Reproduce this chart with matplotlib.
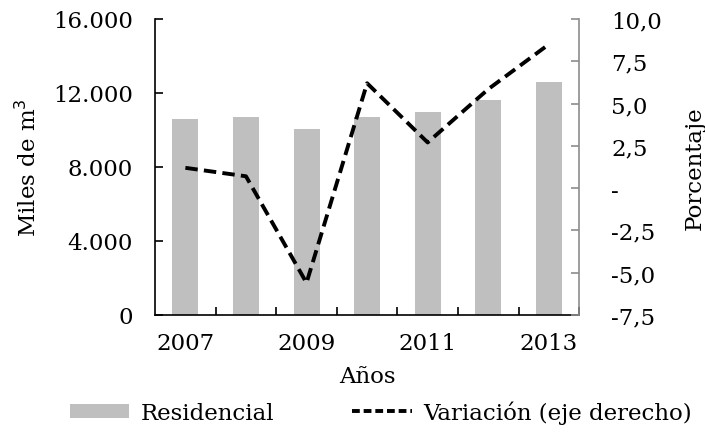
import matplotlib
matplotlib.use("Agg")
import matplotlib.pyplot as plt
import matplotlib.ticker as ticker
from matplotlib.patches import Patch
from matplotlib.lines import Line2D

plt.rcParams['font.family'] = ['DejaVu Serif']
plt.rcParams['font.size'] = 16.5

anios = ['2007', '2008', '2009', '2010', '2011', '2012', '2013']
residencial = [10570, 10700, 10050, 10700, 10970, 11640, 12580]
variacion = [1.2, 0.7, -5.6, 6.2, 2.7, 5.85, 8.5]
etiquetas_x = ['2007', '2009', '2011', '2013']

gris = '#bfbfbf'

fig = plt.figure(figsize=(7.05, 4.35), dpi=100)
ax = fig.add_axes([0.22, 0.2736, 0.6014, 0.6805])
pos = list(range(len(anios)))

# barras de consumo residencial (eje izquierdo)
ax.bar(pos, residencial, width=0.43, color=gris, zorder=1)
ax.set_xlim(-0.5, len(anios) - 0.5)
ax.set_ylim(0, 16000)
ax.yaxis.set_major_locator(ticker.MultipleLocator(4000))
ax.yaxis.set_major_formatter(ticker.FuncFormatter(lambda v, p: f"{int(v):,}".replace(',', '.')))
ax.set_xticks([0, 2, 4, 6])
ax.set_xticklabels(etiquetas_x)
ax.set_xticks([p + 0.5 for p in pos], minor=True)
ax.tick_params(axis='x', which='major', length=0, pad=12)
ax.tick_params(axis='x', which='minor', direction='in', length=6, width=1.2)
ax.tick_params(axis='y', direction='in', length=6, width=1.2, pad=16)
ax.spines['top'].set_visible(False)
ax.spines['right'].set_visible(False)
ax.spines['left'].set_linewidth(1.2)
ax.spines['bottom'].set_linewidth(1.2)
ax.set_xlabel('Años', labelpad=8)
ax.set_ylabel('Miles de m$^3$', labelpad=9)

# variacion porcentual (eje derecho)
ax2 = ax.twinx()
ax2.plot(pos, variacion, color='black', linestyle=(0, (3.2, 1.6)), linewidth=2.8, zorder=3)
ax2.set_ylim(-7.5, 10)
ax2.yaxis.set_major_locator(ticker.MultipleLocator(2.5))
ax2.yaxis.set_major_formatter(ticker.FuncFormatter(
    lambda v, p: '-' if abs(v) < 1e-9 else f"{v:.1f}".replace('.', ',')))
for s in ['top', 'left', 'bottom']:
    ax2.spines[s].set_visible(False)
ax2.spines['right'].set_color('#8c8c8c')
ax2.spines['right'].set_linewidth(1.2)
ax2.tick_params(axis='y', direction='in', length=6, width=1.2, color='#8c8c8c', pad=23)
ax2.set_ylabel('Porcentaje', labelpad=16)

handles = [Patch(facecolor=gris, edgecolor='none'),
           Line2D([0], [0], color='black', linestyle=(0, (2, 1)), linewidth=2.8)]
fig.legend(handles, ['Residencial', 'Variación (eje derecho)'],
           loc='center', bbox_to_anchor=(0.54, 0.05), ncol=2, frameon=False,
           handlelength=2.6, handleheight=0.55, columnspacing=3.4, handletextpad=0.5)

fig.savefig('out.png', dpi=100)
